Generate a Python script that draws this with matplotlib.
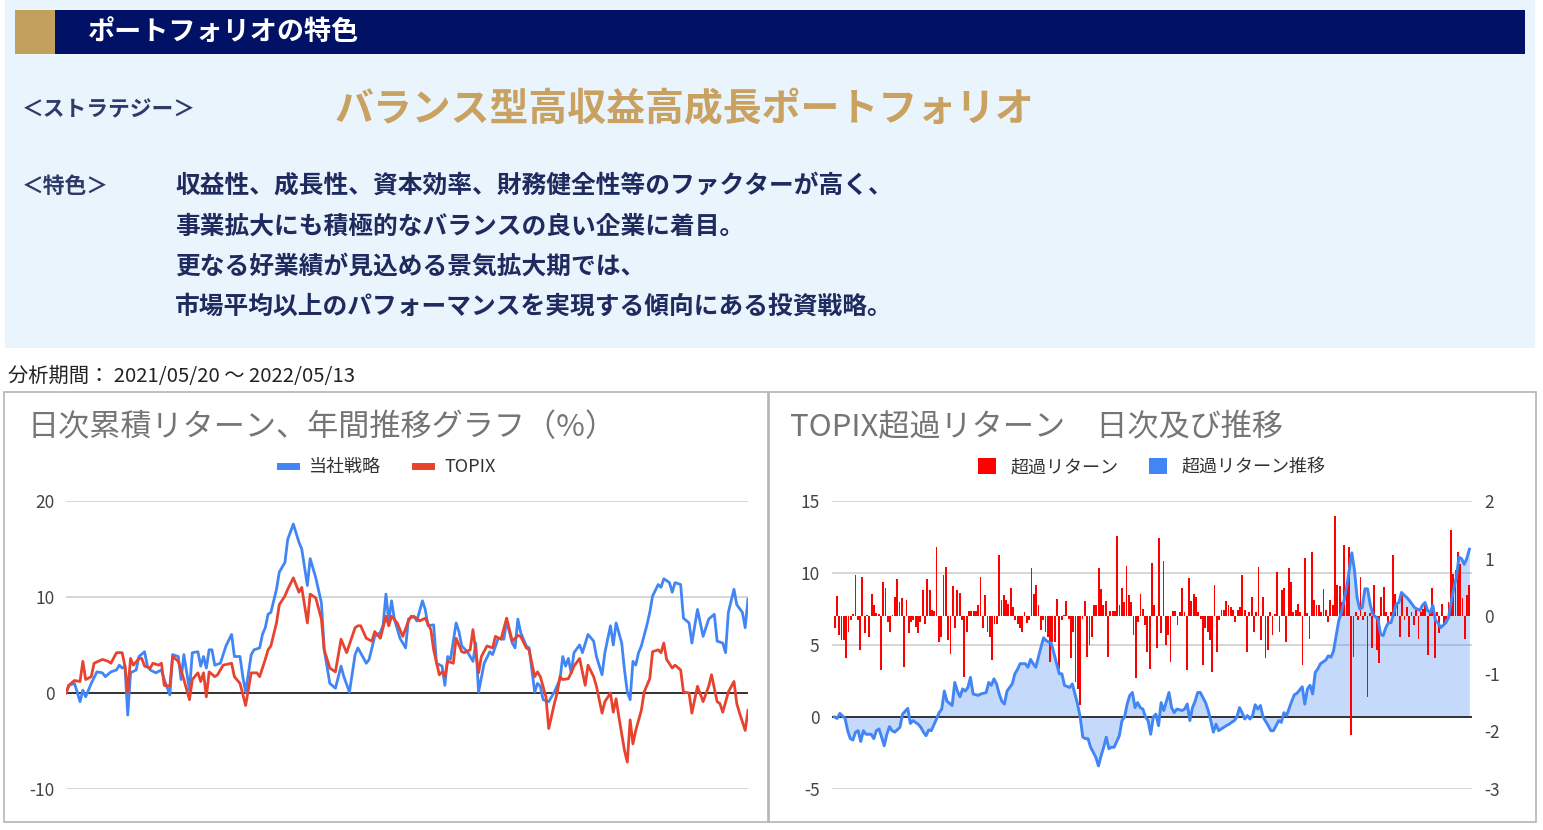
import numpy as np
import matplotlib
matplotlib.use('Agg')
import matplotlib.pyplot as plt
from matplotlib.patches import Rectangle, Patch
from matplotlib.lines import Line2D

plt.rcParams['font.family'] = ['Noto Sans CJK JP', 'DejaVu Sans']
plt.rcParams['axes.unicode_minus'] = False

# ---------------- data ----------------
# left chart: cumulative daily return (%), x = trading-day number since 2021/05/20
strategy_days = [0,1,3,4,5,6,7,9,11,13,14,16,18,19,20,21,22,23,25,26,28,29,30,32,34,35,37,38,40,41,42,44,45,47,48,49,50,51,52,53,55,57,59,60,62,63,64,66,67,69,70,71,72,73,75,76,78,
                 79,81,83,84,86,87,89,91,92,94,96,98,99,101,103,104,107,108,110,112,113,114,115,116,117,119,121,122,124,125,127,128,129,131,132,134,135,136,137,139,140,141,143,145,146,147,149,151,152,154,156,157,159,160,161,
                 162,164,165,167,168,169,170,172,174,176,177,178,179,180,181,183,184,186,188,189,191,192,194,195,196,198,199,200,201,202,203,204,205,207,208,209,211,212,213,215,216,217,219,220,222,223,225,227,229,231,232,234,235,236,238,239,241,242,243]
strategy_vals = [0,0.8,1.0,0.1,-0.9,0.3,-0.4,1.0,2.2,2.1,1.7,2.2,2.4,2.9,2.6,2.8,-2.3,2.1,2.4,3.8,4.3,2.8,2.4,2.1,2.4,1.4,-0.2,4.0,3.8,1.4,4.0,0.3,4.2,4.3,2.8,3.8,2.6,4.5,4.5,2.9,3.1,4.9,6.1,3.8,3.8,1.7,0.1,4.0,4.5,4.7,6.1,6.8,8.2,8.4,10.8,12.6,13.6,
                 16.0,17.6,15.7,15.0,11.2,14.0,12.0,9.4,4.5,1.0,0.5,2.8,1.7,0.1,4.0,4.7,3.1,3.5,5.9,6.3,7.1,10.3,7.5,9.6,7.7,5.7,4.7,7.7,8.0,7.5,9.6,8.7,7.0,7.1,3.1,2.8,0.8,3.8,3.5,7.3,6.4,4.9,4.3,3.3,5.2,0.1,3.1,4.3,4.0,5.7,5.6,7.5,5.2,4.7,7.7,
                 6.3,4.9,4.7,0.1,1.0,0.7,-0.7,-0.9,0.1,1.4,3.8,2.8,3.6,2.1,4.2,5.0,4.2,6.1,5.4,3.8,1.9,4.2,7.0,5.0,7.3,5.2,2.4,0.1,-0.7,3.3,2.9,4.2,4.9,7.1,8.4,10.1,11.3,11.0,11.9,11.5,10.5,11.5,11.3,7.8,7.3,5.2,8.7,5.9,7.7,8.2,5.4,5.2,4.2,8.4,10.8,9.2,8.4,6.8,9.8]

topix_days = [0,1,3,5,6,7,9,10,13,15,16,18,20,21,22,23,24,26,27,28,30,31,33,34,35,37,38,40,42,44,45,47,48,49,50,51,53,54,56,59,60,62,64,66,68,69,71,72,73,75,76,78,
              79,81,83,84,86,87,89,91,92,94,96,98,100,103,104,105,107,109,110,112,114,115,116,118,120,122,123,125,126,128,130,131,133,134,135,136,138,139,141,142,144,145,147,148,150,152,153,155,157,159,161,
              162,164,165,167,168,169,171,172,174,175,176,177,179,180,181,183,185,186,188,189,191,192,194,195,196,197,199,200,201,202,203,205,206,208,209,211,212,213,214,216,217,219,220,222,223,225,227,229,230,232,233,234,236,238,239,240,242,243]
topix_vals = [0,0.8,1.3,1.2,3.3,1.4,1.7,3.1,3.5,3.3,3.1,4.2,4.2,2.8,0.1,3.6,2.9,3.6,3.6,2.8,2.6,3.1,2.9,3.1,0.8,0.7,3.8,3.3,1.4,-0.7,1.4,2.1,1.2,2.1,-0.4,2.2,1.7,1.9,2.9,3.1,1.7,1.0,-1.3,2.1,2.1,1.7,3.5,4.5,4.9,7.3,9.2,10.1,
              10.8,12.0,10.5,11.0,7.3,10.3,9.9,7.7,4.5,2.6,2.2,5.6,4.2,6.8,7.0,7.0,5.7,5.4,6.4,5.7,8.0,7.0,8.0,7.3,5.9,7.5,8.0,7.8,7.5,7.8,6.6,4.5,1.9,2.2,1.7,3.3,3.1,5.7,4.3,4.2,4.5,6.6,2.1,3.8,4.9,4.7,5.9,5.6,7.8,5.4,6.0,
              5.9,4.7,4.5,1.7,2.2,1.7,-0.4,-3.7,-1.1,0.0,1.7,1.4,1.5,2.1,2.8,3.6,0.8,2.9,1.7,0.7,-2.1,-0.9,0.0,-2.0,-0.6,-2.5,-6.0,-7.2,-2.8,-5.3,-3.9,-1.8,0.1,1.5,4.3,4.5,4.2,5.2,3.5,2.6,2.9,2.4,0.1,0.0,-2.1,0.7,-0.9,0.7,1.9,-0.9,-1.1,-2.0,0.1,1.2,-1.1,-2.1,-3.9,-1.8]

# right chart: cumulative excess return vs TOPIX (left axis)
excess_days = [0,1,2,4,5,6,7,8,9,10,11,12,14,15,16,17,18,19,20,21,22,23,25,26,28,29,30,32,33,34,35,36,37,39,40,41,42,43,45,46,47,48,49,50,51,52,53,55,56,58,59,60,61,62,63,64,65,66,68,69,70,71,73,74,75,76,77,78,79,80,
               81,83,84,85,86,87,88,90,91,92,93,94,95,96,97,98,100,101,102,103,104,105,106,107,109,110,111,112,113,114,115,116,117,118,119,120,121,122,123,124,125,126,128,129,130,131,133,134,135,136,137,138,139,140,142,143,144,145,146,147,148,150,151,152,153,154,155,156,157,158,159,160,161,
               162,163,164,166,167,168,170,171,172,173,175,176,177,179,180,181,182,183,184,185,186,188,189,190,191,192,193,194,195,196,197,198,199,200,201,202,203,204,205,206,208,209,210,211,212,213,215,216,217,219,220,221,222,224,225,226,227,228,229,230,231,232,234,235,236,237,238,239,240,241,242,243]
excess_cum = [0,-0.1,0.25,-0.1,-0.95,-1.5,-1.6,-1.05,-0.95,-1.7,-0.95,-1.2,-1.2,-1.5,-0.95,-0.83,-1.4,-2.0,-1.2,-0.67,-0.95,-1.05,-0.72,0.2,0.6,-0.45,-0.25,-0.5,-0.72,-1.05,-1.3,-0.9,-0.95,-0.14,0.3,0.55,1.8,1.1,0.8,2.4,1.8,1.4,1.95,1.8,2.05,2.75,1.6,1.5,1.6,1.7,2.4,2.2,2.65,2.3,1.6,1.1,0.9,1.8,2.3,3.0,3.3,3.7,3.7,3.45,4.0,3.7,3.45,4.15,4.85,5.5,
              5.3,5.1,4.4,3.7,3.0,3.0,2.2,2.05,2.3,1.6,0.9,0.0,-1.4,-1.5,-1.5,-2.1,-2.8,-3.4,-2.7,-2.1,-1.4,-2.2,-2.1,-2.1,-1.3,-0.25,0.0,0.9,1.5,1.7,0.65,1.0,0.65,0.55,0.0,-0.25,-1.2,0.0,0.2,-0.6,1.0,0.45,1.7,0.65,0.3,0.55,0.45,0.55,0.9,-0.25,0.65,1.1,1.7,1.7,1.0,0.45,-0.25,-1.05,-0.5,-0.95,-0.83,-0.6,-0.5,-0.37,-0.25,0.0,0.65,0.3,-0.14,0.1,-0.14,0.1,0.85,
              0.55,0.8,0.0,-0.6,-0.95,-0.95,-0.25,-0.37,0.3,0.1,1.1,1.55,1.65,2.1,0.9,1.95,2.2,1.6,3.1,3.35,3.7,3.95,4.25,4.15,4.6,5.65,6.7,7.25,8.1,9.0,10.2,11.4,10.2,8.3,7.5,7.6,8.9,8.9,7.85,7.15,6.8,5.75,5.65,6.2,6.55,6.55,7.85,7.95,8.65,8.3,8.1,7.85,7.6,7.4,7.75,7.95,7.4,7.25,7.75,6.7,6.55,6.2,6.55,6.9,7.95,8.9,9.7,11.1,11.0,10.6,11.0,11.65]

# right chart: daily excess return (right axis), in date order
excess_daily = [-0.2,0.35,-0.33,-0.42,-0.42,-0.72,-0.27,-0.07,0.03,0.71,-0.07,-0.59,0.68,-0.30,0.02,-0.36,0.39,0.19,0.06,0.03,-0.94,0.6,0.49,-0.1,-0.27,0.02,0.34,0.65,0.25,0.31,-0.88,0.28,-0.3,-0.1,-0.07,-0.19,-0.3,-0.1,0.46,-0.13,0.65,0.46,0.1,0.09,1.2,-0.45,-0.36,0.71,0.86,-0.42,-0.65,0.53,-0.21,0.45,0.41,-0.07,-1.05,-0.27,0.09,0.09,0.09,0.09,0.19,0.68,-0.2,0.36,-0.28,-0.36,-0.76,-0.13,-0.13,1.06,0.28,0.36,0.28,0.22,0.49,0.16,-0.07,-0.13,-0.21,-0.27,0.08,-0.11,-0.07,0.84,0.38,
                0.55,0.19,-0.24,-0.07,-0.27,-0.36,-0.79,-0.45,-0.45,0.3,-0.91,-0.07,0.02,0.27,-0.04,-0.73,-0.27,-1.14,-1.26,-1.55,-0.04,0.27,-0.71,-0.5,-0.36,0.19,0.19,0.83,0.48,0.19,0.27,-0.71,0.09,0.09,0.09,1.39,0.19,0.49,0.25,0.87,0.37,0.25,-0.33,-1.08,-0.1,0.38,0.13,-0.16,-0.62,-0.91,0.93,0.19,-0.56,1.36,-0.3,0.95,-0.5,-0.33,-0.8,0.09,0.09,-0.16,0.08,0.49,0.08,-0.94,0.67,0.27,0.38,0.34,0.08,-0.04,-0.85,-0.21,-0.27,-0.42,-0.97,0.54,-0.62,-0.07,0.1,0.1,0.27,0.19,0.16,0.1,-0.1,0.1,0.16,0.71,0.1,-0.62,0.08,0.34,-0.27,0.08,
                0.86,-0.42,0.34,-0.73,-0.59,0.08,-0.33,0.03,0.77,-0.27,0.45,0.49,-0.45,0.83,0.6,0.08,0.1,0.22,0.08,-0.85,1.01,0.05,-0.39,1.12,0.28,0.19,0.19,0.08,0.48,0.1,-0.1,0.28,0.19,1.74,0.55,0.52,0.25,1.23,0.57,1.2,-2.07,-0.71,0.08,-0.07,0.68,-0.07,0.08,-1.4,0.05,-0.56,0.54,-0.59,-0.82,0.34,0.51,0.08,-0.16,0.08,1.06,0.38,0.22,-0.36,0.39,-0.07,0.16,-0.36,0.08,-0.16,0.1,-0.39,0.08,0.13,0.19,-0.67,0.08,0.49,-0.72,0.08,-0.3,0.22,-0.13,-0.07,0.25,1.49,0.74,0.8,1.12,0.9,0.31,-0.39,0.36,0.54]

left_yticks = [-10, 0, 10, 20]
right_left_yticks = [-5, 0, 5, 10, 15]
right_right_yticks = [-3, -2, -1, 0, 1, 2]

header_title = 'ポートフォリオの特色'
strategy_label = '＜ストラテジー＞'
strategy_name = 'バランス型高収益高成長ポートフォリオ'
feature_label = '＜特色＞'
feature_lines = ['収益性、成長性、資本効率、財務健全性等のファクターが高く、',
                 '事業拡大にも積極的なバランスの良い企業に着目。',
                 '更なる好業績が見込める景気拡大期では、',
                 '市場平均以上のパフォーマンスを実現する傾向にある投資戦略。']
period_text = '分析期間： 2021/05/20 ～ 2022/05/13'
left_title = '日次累積リターン、年間推移グラフ（%）'
right_title = 'TOPIX超過リターン　日次及び推移'
left_legend = ['当社戦略', 'TOPIX']
right_legend = ['超過リターン', '超過リターン推移']

# ---------------- figure ----------------
W, H = 1543, 830
fig = plt.figure(figsize=(W / 100, H / 100), dpi=100)


def fx(px):
    return px / W


def fy(py):
    return 1 - py / H


def rect(x0, y0, x1, y1, **kw):
    r = Rectangle((fx(x0), fy(y1)), (x1 - x0) / W, (y1 - y0) / H,
                  transform=fig.transFigure, **kw)
    fig.patches.append(r)


BLUE = '#4285f4'
RED_LINE = '#e8432e'
RED_BAR = '#ff0000'

# header panel
rect(5, 0, 1535, 348, facecolor='#e9f4fd', edgecolor='none', zorder=0)
rect(15, 10, 1525, 54, facecolor='#001166', edgecolor='none', zorder=1)
rect(15, 10, 55, 54, facecolor='#c3a05e', edgecolor='none', zorder=2)

fig.text(fx(88), fy(32), header_title, color='white', fontsize=19.5,
         fontweight='bold', va='center', ha='left')
fig.text(fx(22), fy(110), strategy_label, color='#2e3b68', fontsize=15.7,
         fontweight='bold', va='center', ha='left')
fig.text(fx(335), fy(110), strategy_name, color='#c9a160', fontsize=28,
         fontweight='bold', va='center', ha='left')
fig.text(fx(22), fy(186), feature_label, color='#2e3b68', fontsize=15.7,
         fontweight='bold', va='center', ha='left')
for i, line in enumerate(feature_lines):
    fig.text(fx(175), fy(186 + i * 40.3), line, color='#1f2b5e', fontsize=17.8,
             fontweight='bold', va='center', ha='left')

fig.text(fx(8), fy(376), period_text, color='#222222', fontsize=14.6,
         va='center', ha='left')

# chart frames
rect(4, 392, 768, 822, facecolor='none', edgecolor='#b5b5b5', lw=1.2, zorder=1)
rect(769, 392, 1536, 822, facecolor='none', edgecolor='#b5b5b5', lw=1.2, zorder=1)

fig.text(fx(28), fy(428), left_title, color='#757575', fontsize=22.4,
         va='center', ha='left')
fig.text(fx(790), fy(428), right_title, color='#757575', fontsize=22.4,
         va='center', ha='left')

TICK_COLOR = '#444444'

# ---------------- left chart ----------------
ax1 = fig.add_axes([fx(66), fy(789), 682 / W, 288 / H])
ax1.plot(strategy_days, strategy_vals, color=BLUE, lw=2.0, zorder=3)
ax1.plot(topix_days, topix_vals, color=RED_LINE, lw=2.0, zorder=4)
ax1.set_xlim(0, 243)
ax1.set_ylim(-10, 20)
ax1.set_yticks(left_yticks)
ax1.set_xticks([])
ax1.yaxis.grid(True, color='#cccccc', lw=1.1)
ax1.set_axisbelow(True)
ax1.axhline(0, color='#333333', lw=1.4, zorder=2)
for s in ax1.spines.values():
    s.set_visible(False)
ax1.tick_params(axis='y', length=0, pad=8, labelsize=12.5, labelcolor=TICK_COLOR)
ax1.patch.set_alpha(0)
ax1.legend([Line2D([0], [0], color=BLUE, lw=5), Line2D([0], [0], color=RED_LINE, lw=5)],
           left_legend, loc='center', bbox_to_anchor=(0.472, 1.118), ncol=2,
           frameon=False, fontsize=13, handlelength=0.85, columnspacing=1.9,
           handletextpad=0.75, labelcolor='#333333')

# ---------------- right chart ----------------
ax2 = fig.add_axes([fx(832), fy(789), 640 / W, 288 / H])
ax2.fill_between(excess_days, excess_cum, 0, color=BLUE, alpha=0.3, lw=0, zorder=2)
ax2.set_xlim(-1, 244)
ax2.set_ylim(-5, 15)
ax2.set_yticks(right_left_yticks)
ax2.set_xticks([])
ax2.yaxis.grid(True, color='#cccccc', lw=1.1)
ax2.set_axisbelow(True)
ax2.axhline(0, color='#333333', lw=1.4, zorder=3)
for s in ax2.spines.values():
    s.set_visible(False)
ax2.tick_params(axis='y', length=0, pad=9, labelsize=12.5, labelcolor=TICK_COLOR)
ax2.patch.set_alpha(0)

ax3 = ax2.twinx()
bar_x = np.linspace(0, 243, len(excess_daily))
ax3.bar(bar_x, excess_daily, width=0.7, color=RED_BAR, lw=0, zorder=2)
ax3.plot(excess_days, excess_cum, color=BLUE, lw=2.1, zorder=3,
         transform=ax2.transData)
ax3.set_ylim(-3, 2)
ax3.set_yticks(right_right_yticks)
for s in ax3.spines.values():
    s.set_visible(False)
ax3.tick_params(axis='y', length=0, pad=9, labelsize=12.5, labelcolor=TICK_COLOR)
ax3.legend([Patch(facecolor=RED_BAR), Patch(facecolor=BLUE)], right_legend,
           loc='center', bbox_to_anchor=(0.5, 1.118), ncol=2, frameon=False,
           fontsize=13, handlelength=1.0, handleheight=1.0, columnspacing=1.7,
           handletextpad=0.8, labelcolor='#333333')

fig.savefig('out.png', dpi=100)
